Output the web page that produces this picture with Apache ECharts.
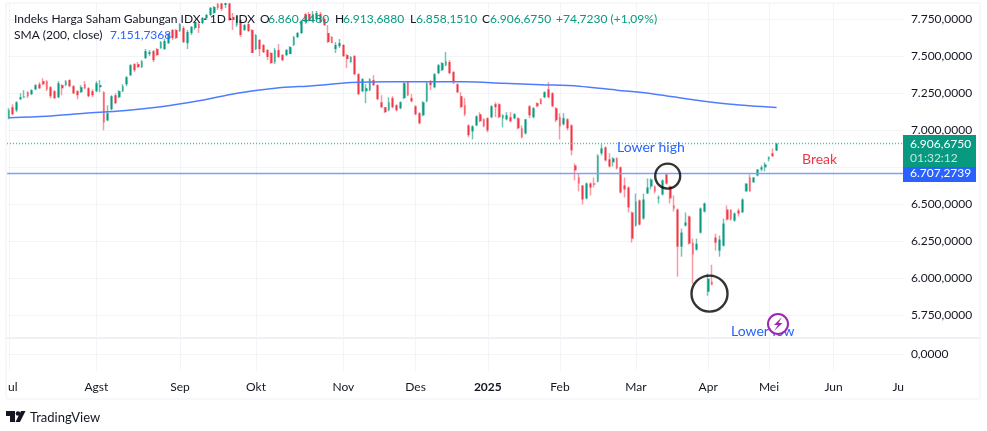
<!DOCTYPE html>
<html>
<head>
<meta charset="utf-8">
<title>IHSG</title>
<style>
html,body{margin:0;padding:0;background:#fff;}
#chart{width:987px;height:431px;}
</style>
<script src="https://cdn.jsdelivr.net/npm/echarts@6/dist/echarts.min.js"></script>
</head>
<body>
<div id="chart"></div>
<script>
var opens = [
7079,7154,7133,7208,7221,7255,7242,7275,7309,7330,
7330,7289,7262,7221,7303,7303,7337,7296,7262,7255,
7309,7282,7262,7262,7289,7255,7065,7140,7235,7221,
7262,7309,7370,7445,7445,7425,7486,7513,7533,7547,
7554,7547,7587,7676,7676,7669,7689,7587,7655,7689,
7716,7723,7757,7777,7791,7852,7855,7845,7855,7764,
7709,7743,7676,7716,7676,7547,7608,7574,7540,7520,
7459,7540,7506,7506,7513,7574,7628,7655,7784,7784,
7743,7750,7784,7750,7655,7628,7547,7567,7574,7506,
7459,7499,7377,7262,7262,7269,7337,7303,7187,7154,
7133,7215,7167,7147,7215,7330,7215,7160,7113,7099,
7194,7330,7289,7384,7404,7438,7459,7391,7309,7228,
7167,7031,6990,7031,7106,7072,7079,7086,7174,7174,
7079,7072,7086,7079,7079,7011,6977,7160,7086,7181,
7208,7221,7275,7248,7147,7086,7038,7072,7031,6760,
6679,6625,6537,6638,6638,6652,6842,6882,6801,6781,
6808,6747,6625,6611,6442,6354,6523,6401,6570,6618,
6618,6537,6564,6699,6618,6489,6462,6211,6354,6415,
6238,6191,6306,6448,5906,5974,6272,6184,6218,6462,
6462,6387,6455,6442,6584,6679,6645,6692,6733,6747,
6801,6842,6860.44];
var highs = [
7147,7174,7194,7248,7269,7262,7275,7309,7323,7350,
7337,7296,7269,7330,7309,7337,7343,7303,7269,7303,
7330,7289,7275,7330,7337,7262,7167,7235,7248,7269,
7309,7364,7445,7452,7459,7472,7547,7540,7540,7554,
7601,7615,7655,7682,7682,7723,7703,7676,7703,7737,
7730,7764,7784,7831,7838,7859,7859,7859,7859,7791,
7770,7743,7716,7723,7682,7648,7615,7581,7547,7526,
7554,7581,7513,7547,7567,7635,7662,7743,7791,7798,
7804,7804,7798,7764,7709,7635,7594,7615,7581,7513,
7499,7506,7384,7350,7309,7350,7370,7309,7235,7154,
7221,7228,7174,7194,7323,7330,7242,7167,7120,7194,
7323,7337,7384,7445,7459,7526,7472,7398,7316,7255,
7215,7038,7031,7099,7120,7079,7086,7167,7187,7181,
7106,7120,7120,7113,7086,7031,7072,7167,7154,7187,
7215,7262,7323,7255,7154,7113,7113,7079,7038,6774,
6706,6625,6645,6645,6679,6835,6903,6889,6842,6815,
6815,6753,6679,6618,6448,6570,6530,6570,6672,6672,
6625,6557,6665,6706,6625,6557,6469,6333,6442,6421,
6265,6265,6476,6509,6028,6089,6299,6286,6401,6489,
6462,6442,6469,6537,6638,6699,6679,6733,6760,6781,
6821,6875,6913.688];
var lows = [
7072,7099,7120,7201,7215,7215,7235,7269,7275,7303,
7262,7215,7208,7215,7235,7296,7289,7242,7208,7250,
7275,7221,7221,7255,7255,6997,7059,7133,7174,7215,
7255,7296,7364,7391,7418,7418,7479,7499,7459,7499,
7547,7540,7581,7608,7615,7662,7587,7547,7642,7676,
7655,7716,7743,7770,7784,7811,7804,7825,7737,7676,
7696,7628,7669,7662,7520,7540,7499,7520,7472,7445,
7445,7486,7465,7499,7513,7567,7621,7648,7716,7730,
7730,7737,7723,7703,7587,7587,7520,7554,7493,7418,
7452,7370,7235,7255,7181,7262,7296,7201,7147,7113,
7126,7147,7126,7140,7208,7228,7187,7099,7038,7092,
7187,7269,7282,7377,7398,7431,7377,7309,7248,7147,
7092,6950,6936,7025,7052,7018,6984,7079,7086,7079,
7018,7065,7052,7072,7004,6943,6970,7079,7079,7154,
7174,7215,7215,7154,7052,6936,7031,6997,6828,6659,
6584,6496,6530,6557,6611,6645,6828,6787,6747,6753,
6733,6570,6543,6442,6238,6347,6354,6394,6570,6598,
6570,6503,6557,6631,6503,6448,6008,6143,6347,6225,
5960,6184,6299,6442,5879,5950,6184,6143,6211,6387,
6387,6380,6415,6442,6584,6584,6645,6686,6720,6720,
6787,6821,6858.151];
var closes = [
7133,7106,7187,7221,7225,7228,7269,7303,7282,7309,
7275,7228,7215,7316,7282,7330,7296,7248,7235,7289,
7282,7228,7235,7316,7303,7052,7113,7228,7181,7262,
7296,7357,7438,7404,7425,7465,7533,7526,7472,7506,
7594,7601,7648,7621,7621,7716,7594,7662,7696,7730,
7689,7757,7777,7825,7831,7825,7818,7858,7743,7743,
7770,7642,7709,7669,7520,7642,7547,7526,7493,7452,
7540,7493,7472,7540,7560,7628,7655,7737,7730,7743,
7784,7791,7730,7709,7594,7587,7574,7587,7499,7479,
7493,7377,7242,7343,7282,7343,7303,7208,7154,7120,
7187,7154,7133,7187,7316,7235,7194,7106,7045,7187,
7316,7303,7377,7438,7452,7465,7384,7323,7255,7154,
7106,6964,7025,7092,7059,7025,6997,7160,7154,7086,
7099,7099,7059,7106,7011,6950,7072,7099,7147,7160,
7174,7255,7221,7160,7065,7025,7079,7011,6862,6726,
6638,6530,6638,6611,6631,6828,6875,6794,6753,6808,
6740,6577,6598,6476,6265,6516,6360,6530,6611,6665,
6584,6543,6659,6638,6537,6469,6211,6306,6374,6231,
6157,6231,6469,6503,5994,5953,6238,6259,6367,6394,
6394,6435,6435,6530,6638,6584,6679,6733,6747,6767,
6815,6821,6906.675];

// SMA 200 dibaca per 10 bar
var smaIndex = [0,10,20,30,40,50,60,70,80,90,100,110,120,130,140,150,160,170,180,190,202];
var smaValues = [7083,7093,7113,7130,7157,7197,7248,7282,7299,7320,7326,7326,7326,7316,7306,7296,7269,7242,7204,7174,7151.7368];

var monthLabels = ['ul','Agst','Sep','Okt','Nov','Des','2025','Feb','Mar','Apr','Mei','Jun','Ju'];
var labelIndex = [1,23,45,65,88,107,126,145,165,184,200,217,234];
var gridIndex = [0,23,45,65,88,107,126,145,165,184,200,217];

var lastPrice = 6906.675;
var smaLast = 6707.2739;
var circleIndex = [173,184];
var circlePrice = [6688,5893];

var barCount = 236;
var green = '#089981', red = '#f23645', blue = '#2962ff', ink = '#131722';
var font = 'Lato, sans-serif';
var fontSize = 12;
var gridColor = '#f3f4f7';

var categories = [];
for (var i = 0; i < barCount; i++) {
    var k = labelIndex.indexOf(i);
    categories.push(k >= 0 ? monthLabels[k] : '');
}

var wickData = [], bodyData = [];
for (var j = 0; j < opens.length; j++) {
    wickData.push([opens[j], closes[j], lows[j], highs[j]]);
    bodyData.push([opens[j], closes[j], Math.min(opens[j], closes[j]), Math.max(opens[j], closes[j])]);
}
var smaData = [];
for (var s = 0; s < smaIndex.length; s++) {
    smaData.push([smaIndex[s], smaValues[s]]);
}

function formatPrice(v) {
    var parts = v.toFixed(4).split('.');
    return parts[0].replace(/\B(?=(\d{3})+(?!\d))/g, '.') + ',' + parts[1];
}
function isGridTick(index) {
    return gridIndex.indexOf(index) >= 0;
}
function txt(x, y, text, fill, size, weight, align) {
    return {
        type: 'text', x: x, y: y, z: 100, silent: true,
        style: {
            text: text, fill: fill, align: align || 'left', verticalAlign: 'middle',
            font: (weight || 'normal') + ' ' + (size || fontSize) + 'px ' + font
        }
    };
}
// garis harga horizontal, satu seri per warna
function level(name, value, color, type, width) {
    return {
        name: name, type: 'line', data: [],
        markLine: {
            silent: true, symbol: 'none', label: {show: false},
            lineStyle: {color: color, type: type, width: width},
            data: [{yAxis: value}]
        }
    };
}

var chart = echarts.init(document.getElementById('chart'));
var option = {
    animation: false,
    backgroundColor: '#fff',
    grid: [
        {left: 7.1, width: 896.8, top: 3, height: 348.8},
        {left: 7.1, width: 896.8, top: 338, height: 33}
    ],
    xAxis: [
        {
            type: 'category', gridIndex: 0, data: categories,
            axisLine: {show: false}, axisTick: {show: false}, axisLabel: {show: false},
            splitLine: {show: true, alignWithLabel: true, interval: isGridTick, lineStyle: {color: gridColor}}
        },
        {
            type: 'category', gridIndex: 1, data: categories,
            axisLine: {show: false}, axisTick: {show: false},
            axisLabel: {
                margin: 10, color: ink, fontSize: fontSize, fontFamily: font,
                interval: function (index, value) { return value !== ''; },
                formatter: function (value) {
                    return value === '2025' ? '{b|2025}' : value;
                },
                rich: {b: {fontWeight: 'bold', fontSize: fontSize, fontFamily: font, color: ink}}
            },
            splitLine: {show: true, alignWithLabel: true, interval: isGridTick, lineStyle: {color: gridColor}}
        }
    ],
    yAxis: [
        {
            type: 'value', gridIndex: 0, position: 'right',
            min: 5500, max: 7858.2, interval: 250, scale: true,
            axisLine: {show: false}, axisTick: {show: false},
            axisLabel: {
                margin: 7, color: ink, fontSize: fontSize, fontFamily: font,
                showMinLabel: false, showMaxLabel: false, formatter: formatPrice
            },
            splitLine: {show: true, showMinLine: false, showMaxLine: false, lineStyle: {color: gridColor}}
        },
        {
            type: 'value', gridIndex: 1, position: 'right',
            min: -1, max: 1, interval: 1,
            axisLine: {show: false}, axisTick: {show: false},
            axisLabel: {
                margin: 7, color: ink, fontSize: fontSize, fontFamily: font,
                showMinLabel: false, showMaxLabel: false, formatter: formatPrice
            },
            splitLine: {show: true, showMinLine: false, showMaxLine: false, lineStyle: {color: gridColor}}
        }
    ],
    series: [
        level('last', lastPrice, '#3fbda3', [1, 2], 1.4),
        level('level', smaLast, '#7f9fff', 'solid', 1.4),
        {
            name: 'wick', type: 'candlestick', data: wickData, barWidth: 1,
            itemStyle: {color: '#74c4b4', color0: '#fa9aa2', borderColor: '#74c4b4', borderColor0: '#fa9aa2', borderWidth: 1.5}
        },
        {
            name: 'IHSG', type: 'candlestick', data: bodyData, barWidth: 2.4,
            itemStyle: {color: green, color0: red, borderColor: green, borderColor0: red, borderWidth: 0}
        },
        {
            name: 'SMA (200, close)', type: 'line', data: smaData, showSymbol: false, smooth: 0.3,
            lineStyle: {color: '#4f7dff', width: 1.5}
        },
        {
            name: 'circles', type: 'scatter', silent: true, z: 5,
            data: [[circleIndex[0], circlePrice[0]], [circleIndex[1], circlePrice[1]]],
            symbol: 'circle', symbolOffset: [1.3, 0],
            symbolSize: function (v, params) { return params.dataIndex === 0 ? 25 : 36; },
            itemStyle: {color: 'rgba(0,0,0,0)', borderColor: '#000', borderWidth: 2.4}
        }
    ],
    graphic: [
        // bingkai dan pemisah panel
        {type: 'rect', z: 1, silent: true, shape: {x: 6, y: 3, width: 974, height: 396}, style: {fill: 'none', stroke: '#eef0f4', lineWidth: 1}},
        {type: 'line', z: 1, silent: true, shape: {x1: 6, y1: 338, x2: 980, y2: 338}, style: {stroke: '#eff0f6', lineWidth: 2}},

        // legenda
        txt(14, 19, 'Indeks Harga Saham Gabungan IDX · 1D · IDX', ink),
        txt(260, 19, 'O', ink), txt(268, 19, '6.860,4480', green),
        txt(335, 19, 'H', ink), txt(343, 19, '6.913,6880', green),
        txt(410, 19, 'L', ink), txt(416, 19, '6.858,1510', green),
        txt(482, 19, 'C', ink), txt(490, 19, '6.906,6750', green),
        txt(556, 19, '+74,7230 (+1,09%)', green),
        txt(14, 35, 'SMA (200, close)', ink),
        txt(110, 35, '7.151,7368', blue),

        // anotasi
        txt(617, 147, 'Lower high', blue, 14),
        txt(802, 159, 'Break', red, 14),
        txt(731, 331, 'Lower low', blue, 14),
        {type: 'circle', z: 100, silent: true, shape: {cx: 778, cy: 324, r: 10}, style: {fill: '#fff', stroke: '#9c27b0', lineWidth: 2}},
        {type: 'polygon', z: 100, silent: true, shape: {points: [[782, 317], [774, 325], [778, 325], [774, 331], [782.5, 323], [778.5, 323]]}, style: {fill: '#9c27b0'}},

        // label harga
        {type: 'rect', z: 99, silent: true, shape: {x: 903, y: 135, width: 73, height: 32}, style: {fill: green}},
        {type: 'rect', z: 99, silent: true, shape: {x: 903, y: 167, width: 73, height: 15}, style: {fill: blue}},
        txt(910, 144, formatPrice(lastPrice), '#fff'),
        txt(910, 158, '01:32:12', '#c4e6df'),
        txt(910, 173, formatPrice(smaLast), '#fff'),

        // logo
        {type: 'polygon', z: 100, silent: true, shape: {points: [[6, 411], [15, 411], [15, 422], [10, 422], [10, 416], [6, 416]]}, style: {fill: ink}},
        {type: 'circle', z: 100, silent: true, shape: {cx: 18, cy: 413.5, r: 2.3}, style: {fill: ink}},
        {type: 'polygon', z: 100, silent: true, shape: {points: [[21, 411], [25.5, 411], [20, 422], [15.5, 422]]}, style: {fill: ink}},
        txt(30, 418, 'TradingView', ink, 13)
    ]
};
chart.setOption(option);
</script>
</body>
</html>
